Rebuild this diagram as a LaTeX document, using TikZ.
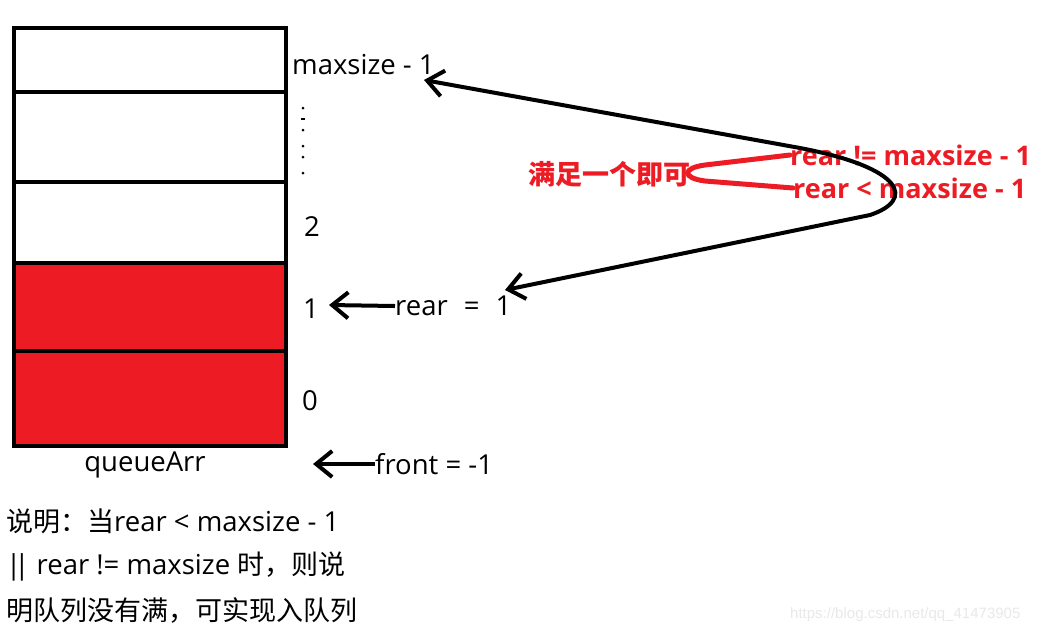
\documentclass[tikz,border=0pt]{standalone}
\usepackage{fontspec}
\setmainfont{Open Sans}
\newfontfamily\cjk{Noto Sans CJK SC}
\newfontfamily\wmfont{Liberation Sans}
\usetikzlibrary{arrows.meta}
\definecolor{pred}{HTML}{ED1C24}
\definecolor{wm}{HTML}{E8E8E8}
\tikzset{
  cell/.style={draw=black,line width=4pt},
  filled/.style={cell,fill=pred},
  lbl/.style={font=\fontsize{27.5}{30}\selectfont,inner sep=0pt},
  rlbl/.style={font=\fontsize{27}{30}\selectfont\bfseries,text=pred,inner sep=0pt},
  barb/.style={line width=4pt,-{Straight Barb[length=16pt,width=26pt,line width=4pt]}},
  dbarb/.style={line width=4pt,{Straight Barb[length=16pt,width=26pt]}-{Straight Barb[length=16pt,width=26pt]}},
}
\newcommand{\zh}[1]{{\cjk\fontsize{27}{30}\selectfont #1}}
\begin{document}
\begin{tikzpicture}[x=1pt,y=-1pt]
\useasboundingbox (0,0) rectangle (1043,633);
% queue array
\draw[cell] (14,28) rectangle (286,92);
\draw[cell] (14,92) rectangle (286,182);
\draw[cell] (14,182) rectangle (286,263);
\draw[filled] (14,263) rectangle (286,351);
\draw[filled] (14,351) rectangle (286,446);
% index labels
\node[lbl,anchor=west] (max) at (292,65) {maxsize - 1};
\foreach \yy in {108,130,146,157,173} \fill (303,\yy) circle (1.5pt);
\draw[line width=1.2pt] (301,119) -- (305,119);
\node[lbl] (i2) at (312,227) {2};
\node[lbl] (i1) at (311,309) {1};
\node[lbl] (i0) at (310,401) {0};
\node[lbl] (qa) at (145,465) {queueArr};
% rear
\node[lbl,anchor=west] (rear) at (395,306) {rear\hspace{16pt}=\hspace{16pt}1};
\coordinate (reartip) at (329,305);
\draw[barb] (rear.west) -- (reartip);
% front
\node[lbl,anchor=west] (front) at (375,464) {front = -1};
\coordinate (fronttip) at (313,464);
\draw[barb] (front.west) -- (fronttip);
% red conditions
\node[rlbl,anchor=west] (c1) at (790,155) {rear != maxsize - 1};
\node[rlbl,anchor=west] (c2) at (793,188) {rear < maxsize - 1};
\node[rlbl] (one) at (609,174) {\zh{\bfseries 满足一个即可}};
\draw[pred,line width=5pt,line cap=round] (c1.west) -- (705,165) .. controls (682,168) and (682,178) .. (705,181) -- (c2.west);
% big black arrow
\coordinate (top) at (424,80);
\coordinate (bot) at (505,290);
\draw[dbarb] (top) -- (800,148) .. controls (905,168) and (915,200) .. (870,215) -- (bot);
% explanation
\node[lbl,anchor=west] (e1) at (6,521) {\zh{说明：当}rear < maxsize - 1};
\node[lbl,anchor=west] (e2) at (6,566) {|\kern-7pt| rear != maxsize \zh{时，则说}};
\node[lbl,anchor=west] (e3) at (6,610) {\zh{明队列没有满，可实现入队列}};
% watermark
\node[font=\wmfont\fontsize{15}{18}\selectfont,text=wm,anchor=west,inner sep=0pt] (wmk) at (790,615) {https://blog.csdn.net/qq\_41473905};
\end{tikzpicture}
\end{document}
